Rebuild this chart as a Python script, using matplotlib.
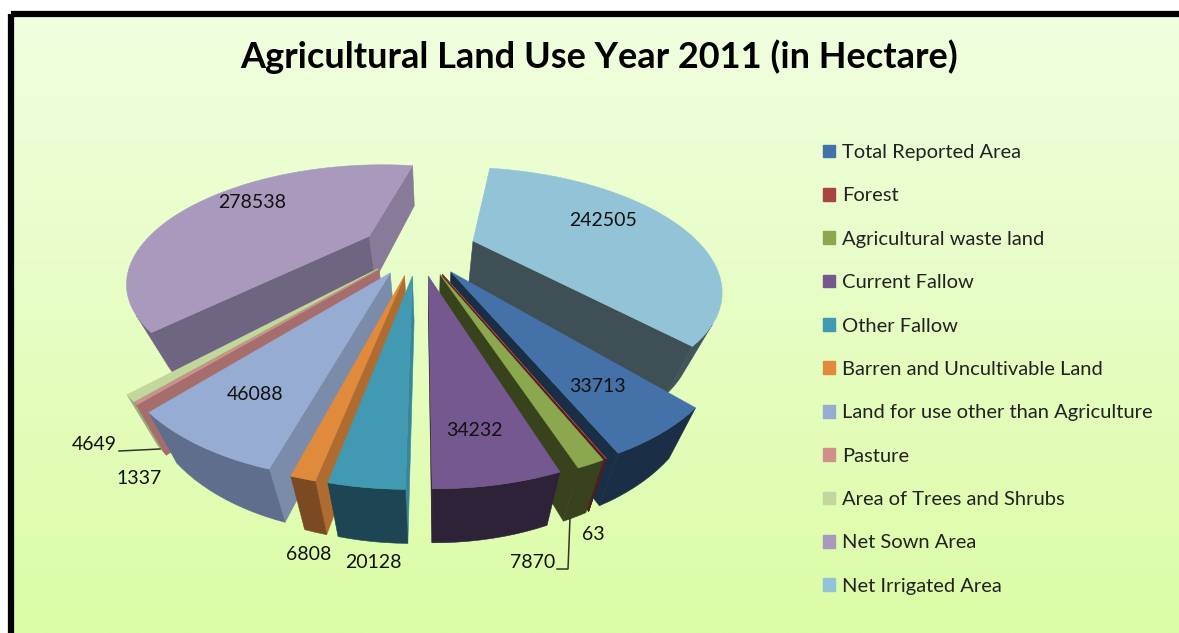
import numpy as np
import matplotlib
matplotlib.use('Agg')
import matplotlib.pyplot as plt
from matplotlib.patches import Patch, Polygon, Rectangle
from matplotlib.colors import to_rgb

plt.rcParams['font.family'] = ['Lato', 'DejaVu Sans']

title = 'Agricultural Land Use Year 2011 (in Hectare)'
categories = ['Total Reported Area', 'Forest', 'Agricultural waste land', 'Current Fallow',
              'Other Fallow', 'Barren and Uncultivable Land', 'Land for use other than Agriculture',
              'Pasture', 'Area of Trees and Shrubs', 'Net Sown Area', 'Net Irrigated Area']
values = [33713, 63, 7870, 34232, 20128, 6808, 46088, 1337, 4649, 278538, 242505]

top_col = ['#4472a8', '#a84543', '#8ba84e', '#74588f', '#419ab2', '#e08a3c', '#97acd3', '#d08f8d', '#c3d69b', '#a99abd', '#92c3d6']
arc_col = ['#1a2e45', '#4d1f1e', '#38431d', '#2e2238', '#1d4553', '#7a4a22', '#5f6e8c', '#a56e6c', '#9aaa7a', '#6e6580', '#41555c']
start_col = ['#1a2e45', '#4d1f1e', '#38431d', '#2e2238', '#37869c', '#b06c30', '#7a8caa', '#a56e6c', '#9aaa7a', '#6e6580', '#3e4f55']
end_col = ['#1a2e45', '#4d1f1e', '#38431d', '#2e2238', '#1d4553', '#7a4a22', '#5f6e8c', '#a56e6c', '#9aaa7a', '#887b99', '#3e4f55']
draw_order = [9, 10, 8, 7, 6, 0, 1, 5, 4, 2, 3]

label_xy = [(597, 386), (593, 535), (533, 562), (474, 430), (373, 562), (309, 555), (255, 395), (139, 478), (94, 445), (252, 203), (603, 220)]

# Fitted perspective of the pie plane: homography, explosion, first-slice angle
H = [224.8257, 159.6284, 418.6316, 0.1206, -13.8517, 247.4533, -0.0100, 0.3671]
EXPLODE = 0.2510
START_DEG = 138.4583
# Base of the pie relative to its top face
X0, SX, SY, OY = 430, 0.90, 1.043, 33

vals = np.array(values, float)
frac = vals / vals.sum()
edges = np.radians(START_DEG) + np.concatenate([[0], np.cumsum(2 * np.pi * frac)])


def proj(i, t, r, low=False):
    th = edges[i] + t * (edges[i + 1] - edges[i])
    mid = (edges[i] + edges[i + 1]) / 2
    u = r * np.sin(th) + EXPLODE * np.sin(mid)
    v = r * np.cos(th) + EXPLODE * np.cos(mid)
    a, b, c, d, e, f, g, h = H
    D = 1 + g * u + h * v
    x, y = (a * u + b * v + c) / D, (d * u + e * v + f) / D
    if low:
        return X0 + SX * (x - X0), SY * y + OY
    return x, y


fig = plt.figure(figsize=(11.79, 6.33), dpi=100, facecolor='white')
ax = fig.add_axes([0, 0, 1, 1])

c1_, c2_ = np.array(to_rgb('#f0ffe0')), np.array(to_rgb('#dcfca6'))
grad = np.linspace(0, 1, 256)[:, None, None] * (c2_ - c1_) + c1_
ax.imshow(grad, extent=(8, 1179, 633, 11), aspect='auto', zorder=0)
ax.set_xlim(0, 1179)
ax.set_ylim(633, 0)
ax.axis('off')
ax.add_patch(Rectangle((11, 14), 1300, 800, fill=False, ec='black', lw=4.5, zorder=1, joinstyle='round'))


def signed(pts):
    p = np.array(pts)
    return 0.5 * np.sum(p[:, 0] * np.roll(p[:, 1], -1) - np.roll(p[:, 0], -1) * p[:, 1])


def face(pts, col, z):
    ax.add_patch(Polygon(pts, closed=True, fc=col, ec=col, lw=0.4, zorder=z))


z = 2
for i in draw_order:
    ts = np.linspace(0, 1, max(2, int(frac[i] * 360 / 2) + 2))
    q = [proj(i, 0, 0), proj(i, 0, 1), proj(i, 0, 1, True), proj(i, 0, 0, True)]
    if signed(q) < 0:
        face(q, start_col[i], z)
    q = [proj(i, 1, 1), proj(i, 1, 0), proj(i, 1, 0, True), proj(i, 1, 1, True)]
    if signed(q) < 0:
        face(q, end_col[i], z)
    # outer wall: one polygon per run of visible segments
    run = []
    for t0, t1 in list(zip(ts[:-1], ts[1:])) + [(None, None)]:
        vis = False
        if t0 is not None:
            vis = signed([proj(i, t1, 1), proj(i, t0, 1), proj(i, t0, 1, True), proj(i, t1, 1, True)]) > 0
        if vis:
            if not run:
                run = [t0]
            run.append(t1)
        elif run:
            face([proj(i, t, 1) for t in run] + [proj(i, t, 1, True) for t in run[::-1]], arc_col[i], z + .1)
            run = []
    top = [proj(i, 0, 0)] + [proj(i, t, 1) for t in ts]
    face(top, top_col[i], z + .2)
    z += 1

for v, (x, y) in zip(values, label_xy):
    ax.text(x, y, str(v), fontsize=14, ha='center', va='center', color='#111111', zorder=40)
ax.plot([119, 160], [451, 449], color='#333333', lw=1.1, zorder=39)
ax.plot([557, 568, 570], [569, 569, 518], color='#333333', lw=1.1, zorder=39)

ax.text(599, 57, title, fontsize=26, fontweight='bold', ha='center', va='center', color='black', zorder=40)

handles = [Patch(fc=c, ec=c) for c in top_col]
ax.legend(handles, categories, loc='upper left', bbox_to_anchor=(823, 144), bbox_transform=ax.transData,
          frameon=False, fontsize=14.5, handlelength=0.6, handleheight=0.6, handletextpad=0.33,
          labelspacing=1.31, borderpad=0, borderaxespad=0, labelcolor='#222222')

fig.savefig('out.png', dpi=100)
